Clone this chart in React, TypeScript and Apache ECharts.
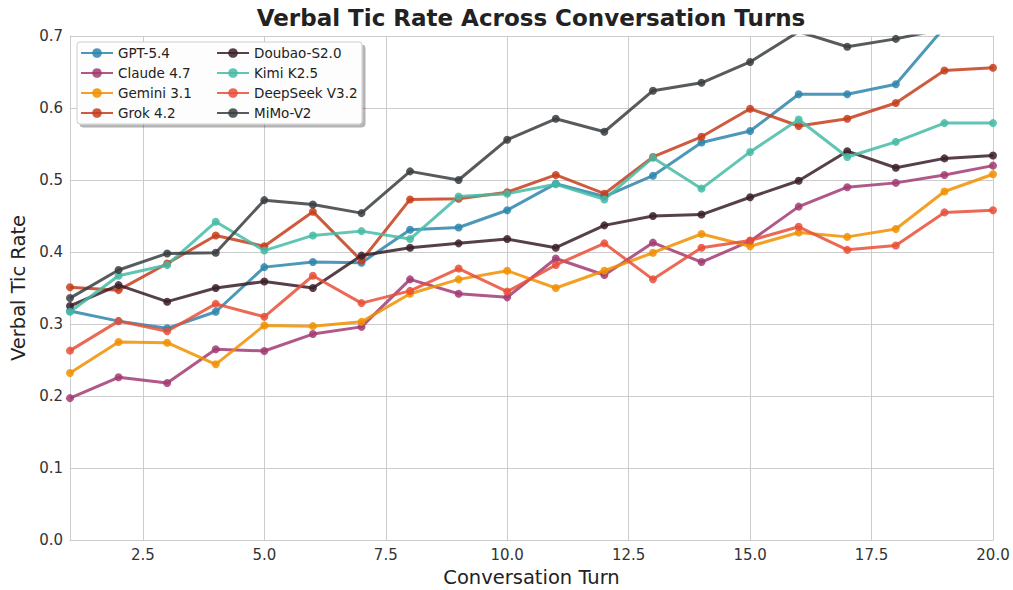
import React, { useEffect, useRef } from "react";
import * as echarts from "echarts";

const turns = [1, 2, 3, 4, 5, 6, 7, 8, 9, 10, 11, 12, 13, 14, 15, 16, 17, 18, 19, 20];
const xTickValues = [2.5, 5, 7.5, 10, 12.5, 15, 17.5, 20];

const seriesNames = ["GPT-5.4", "Claude 4.7", "Gemini 3.1", "Grok 4.2", "Doubao-S2.0", "Kimi K2.5", "DeepSeek V3.2", "MiMo-V2"];
const seriesColors = ["#2E86AB", "#A23B72", "#F18F01", "#C73E1D", "#3B1F2B", "#44BBA4", "#E94F37", "#393E41"];

const gpt = [0.318, 0.304, 0.294, 0.317, 0.379, 0.386, 0.385, 0.431, 0.434, 0.458, 0.495, 0.477, 0.506, 0.552, 0.568, 0.619, 0.619, 0.633, 0.712, 0.705];
const claude = [0.197, 0.226, 0.218, 0.265, 0.2625, 0.286, 0.296, 0.362, 0.342, 0.337, 0.391, 0.368, 0.413, 0.386, 0.415, 0.463, 0.49, 0.496, 0.507, 0.52];
const gemini = [0.232, 0.275, 0.274, 0.244, 0.298, 0.297, 0.303, 0.342, 0.362, 0.374, 0.35, 0.374, 0.399, 0.425, 0.408, 0.427, 0.421, 0.432, 0.484, 0.508];
const grok = [0.351, 0.347, 0.384, 0.423, 0.408, 0.456, 0.388, 0.473, 0.474, 0.483, 0.507, 0.481, 0.532, 0.56, 0.599, 0.575, 0.585, 0.607, 0.652, 0.656];
const doubao = [0.325, 0.354, 0.331, 0.35, 0.359, 0.35, 0.395, 0.406, 0.412, 0.418, 0.406, 0.437, 0.45, 0.452, 0.476, 0.499, 0.54, 0.517, 0.53, 0.534];
const kimi = [0.317, 0.367, 0.382, 0.442, 0.402, 0.423, 0.429, 0.418, 0.477, 0.481, 0.494, 0.473, 0.531, 0.488, 0.539, 0.584, 0.532, 0.553, 0.579, 0.579];
const deepseek = [0.263, 0.304, 0.29, 0.328, 0.31, 0.367, 0.329, 0.346, 0.377, 0.345, 0.382, 0.412, 0.362, 0.406, 0.416, 0.435, 0.403, 0.409, 0.455, 0.458];
const mimo = [0.336, 0.375, 0.398, 0.399, 0.472, 0.466, 0.454, 0.512, 0.5, 0.556, 0.585, 0.567, 0.624, 0.635, 0.664, 0.706, 0.685, 0.696, 0.71, 0.725];

const allValues = [gpt, claude, gemini, grok, doubao, kimi, deepseek, mimo];

const FONT = "DejaVu Sans";

export default function App() {
  const ref = useRef<HTMLDivElement>(null);

  useEffect(() => {
    if (!ref.current) return;
    const chart = echarts.init(ref.current, null, { renderer: "svg" });

    const series = seriesNames.map((name, i) => ({
      name,
      type: "line",
      data: turns.map((t, j) => [t, allValues[i][j]]),
      symbol: "circle",
      symbolSize: 8,
      clip: true,
      lineStyle: { width: 3, color: seriesColors[i], opacity: 0.85 },
      itemStyle: { color: seriesColors[i], opacity: 0.85 },
      emphasis: { disabled: true },
      z: 2,
    }));

    const legendCommon = {
      orient: "vertical",
      top: 46,
      itemWidth: 32,
      itemHeight: 12,
      itemGap: 6,
      textStyle: { fontFamily: FONT, fontSize: 13.5, color: "#222" },
      backgroundColor: "transparent",
      padding: 0,
      z: 20,
    };

    chart.setOption({
      animation: false,
      backgroundColor: "#ffffff",
      textStyle: { fontFamily: FONT },
      grid: { left: 70, right: 20, top: 36, bottom: 50, containLabel: false, outerBoundsMode: "none" },
      graphic: [
        {
          type: "text",
          x: 531,
          y: 18,
          style: {
            text: "Verbal Tic Rate Across Conversation Turns",
            font: `bold 23px "${FONT}"`,
            fill: "#222",
            align: "center",
            verticalAlign: "middle",
          },
        },
        {
          type: "rect",
          shape: { x: 77, y: 42, width: 285, height: 82, r: 3 },
          style: {
            fill: "rgba(255,255,255,0.95)",
            stroke: "#cccccc",
            lineWidth: 1,
            shadowColor: "rgba(0,0,0,0.3)",
            shadowOffsetX: 3,
            shadowOffsetY: 3,
            shadowBlur: 1,
          },
          z: 15,
        },
      ],
      legend: [
        { ...legendCommon, left: 80, data: seriesNames.slice(0, 4) },
        { ...legendCommon, left: 216, data: seriesNames.slice(4) },
      ],
      xAxis: {
        type: "value",
        min: 1,
        max: 20,
        name: "Conversation Turn",
        nameLocation: "middle",
        nameGap: 27,
        nameTextStyle: { fontFamily: FONT, fontSize: 19.5, color: "#222" },
        axisLine: { show: true, lineStyle: { color: "#cccccc", width: 1 } },
        axisTick: { show: false, customValues: xTickValues },
        axisLabel: {
          customValues: xTickValues,
          formatter: (v: number) => v.toFixed(1),
          fontFamily: FONT,
          fontSize: 15,
          color: "#333",
          margin: 7,
        },
        splitLine: { show: true, lineStyle: { color: "#cccccc", width: 1 } },
      },
      yAxis: {
        type: "value",
        min: 0,
        max: 0.7,
        interval: 0.1,
        name: "Verbal Tic Rate",
        nameLocation: "middle",
        nameGap: 35,
        nameTextStyle: { fontFamily: FONT, fontSize: 19.5, color: "#222" },
        axisLine: { show: true, lineStyle: { color: "#cccccc", width: 1 } },
        axisTick: { show: false },
        axisLabel: {
          formatter: (v: number) => v.toFixed(1),
          fontFamily: FONT,
          fontSize: 15,
          color: "#333",
          margin: 7,
        },
        splitLine: { show: true, lineStyle: { color: "#cccccc", width: 1 } },
      },
      series,
    });

    return () => chart.dispose();
  }, []);

  return (
    <div
      ref={ref}
      style={{ position: "fixed", left: 0, top: 0, width: 1013, height: 590, background: "#fff" }}
    />
  );
}
